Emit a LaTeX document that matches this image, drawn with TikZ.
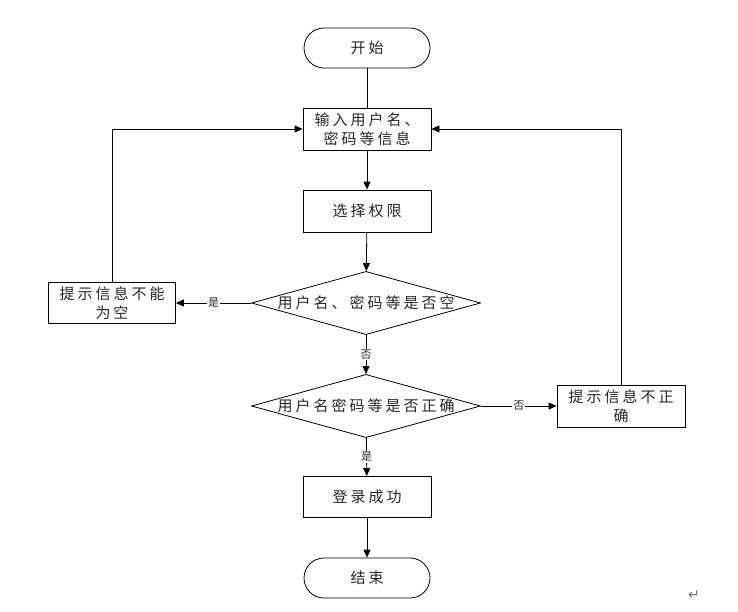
\documentclass[tikz,border=0pt]{standalone}
\usepackage{fontspec}
\setmainfont{Noto Sans CJK SC}
\newfontfamily\spacedcjk[LetterSpace=20]{Noto Sans CJK SC}
\newfontfamily\symfont{DejaVu Sans}
\usetikzlibrary{shapes.geometric,arrows.meta}
\begin{document}
\begin{tikzpicture}[x=1pt,y=-1pt,
  every node/.style={font=\spacedcjk\fontsize{15}{19}\selectfont, text=black!85, inner sep=0pt},
  term/.style={draw, line width=0.8pt, rounded corners=20pt, minimum width=126pt, minimum height=40pt},
  procbox/.style={draw, line width=0.8pt, minimum width=128pt, minimum height=42pt, align=center},
  decide/.style={draw, line width=0.8pt, diamond, aspect=3.6, minimum width=229pt, minimum height=62pt},
  lbl/.style={fill=white, font=\fontsize{11}{12}\selectfont, inner sep=1pt},
  conn/.style={line width=0.8pt},
  arr/.style={conn, -{Triangle[length=8pt,width=7pt]}}]
\useasboundingbox (0,0) rectangle (738,611);
\node[term] (start) at (367,48) {开始};
\node[procbox] (input) at (367,129) {输入用户名、\\密码等信息};
\node[procbox] (perm) at (367,211) {选择权限};
\node[decide] (d1) at (366,303) {用户名、密码等是否空};
\node[decide] (d2) at (366,406) {用户名密码等是否正确};
\node[procbox, minimum width=127pt, minimum height=41pt] (empty) at (112,303) {提示信息不能\\为空};
\node[procbox, minimum width=128pt, minimum height=42pt] (wrong) at (621,406) {提示信息不正\\确};
\node[procbox, minimum height=41pt] (ok) at (367,497) {登录成功};
\node[term] (end) at (367,578) {结束};
\node[text=black!55, font=\symfont\fontsize{14}{16}\selectfont] (mark) at (694,595) {↵};
\draw[conn] (start) -- (input);
\draw[arr] (input) -- (perm);
\draw[arr] (perm) -- (d1);
\draw[arr] (d1) -- node[lbl] {否} (d2);
\draw[arr] (d1.west) -- node[lbl] {是} (empty.east);
\draw[arr] (d2.east) -- node[lbl] {否} (wrong.west);
\draw[arr] (d2) -- node[lbl] {是} (ok);
\draw[arr] (ok) -- (end);
\draw[arr] (empty.north) |- (input.west);
\draw[arr] (wrong.north) |- (input.east);
\end{tikzpicture}
\end{document}
